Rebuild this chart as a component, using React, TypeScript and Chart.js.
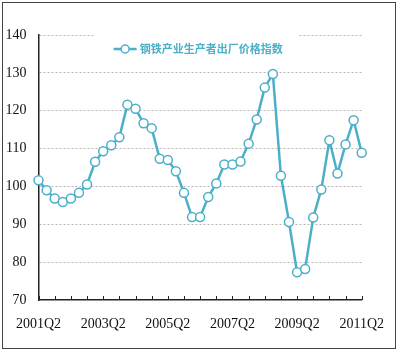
import React, { useEffect, useRef } from "react";
import { Chart, registerables } from "chart.js";

Chart.register(...registerables);

const quarters: string[] = [
  "2001Q2", "2001Q3", "2001Q4", "2002Q1", "2002Q2", "2002Q3", "2002Q4", "2003Q1",
  "2003Q2", "2003Q3", "2003Q4", "2004Q1", "2004Q2", "2004Q3", "2004Q4", "2005Q1",
  "2005Q2", "2005Q3", "2005Q4", "2006Q1", "2006Q2", "2006Q3", "2006Q4", "2007Q1",
  "2007Q2", "2007Q3", "2007Q4", "2008Q1", "2008Q2", "2008Q3", "2008Q4", "2009Q1",
  "2009Q2", "2009Q3", "2009Q4", "2010Q1", "2010Q2", "2010Q3", "2010Q4", "2011Q1",
  "2011Q2",
];

const steelIndex: number[] = [
  101.6, 99.0, 96.8, 95.9, 96.8, 98.3, 100.5, 106.5, 109.3, 110.9, 113.0,
  121.6, 120.5, 116.7, 115.4, 107.3, 107.0, 104.0, 98.3, 91.9, 91.9, 97.2,
  100.8, 105.8, 105.8, 106.6, 111.3, 117.7, 126.1, 129.7, 102.8, 90.6, 77.3,
  78.2, 91.8, 99.2, 112.2, 103.4, 111.1, 117.5, 108.9,
];

const shownXLabels: string[] = ["2001Q2", "2003Q2", "2005Q2", "2007Q2", "2009Q2", "2011Q2"];
const yTicks: number[] = [70, 80, 90, 100, 110, 120, 130, 140];
const seriesName = "钢铁产业生产者出厂价格指数";

const LINE = "#4bafc9";
const TICK_FONT = '"Liberation Serif", "Times New Roman", serif';

const framePlugin = {
  id: "frame",
  beforeDraw(chart: any) {
    const ctx = chart.ctx;
    ctx.save();
    ctx.fillStyle = "#ffffff";
    ctx.fillRect(0, 0, chart.width, chart.height);
    ctx.strokeStyle = "#444444";
    ctx.lineWidth = 1;
    ctx.strokeRect(2.5, 2.5, 393, 346);
    ctx.restore();
  },
};

const tickMarksPlugin = {
  id: "tickMarksUp",
  afterDatasetsDraw(chart: any) {
    const ctx = chart.ctx;
    const xs = chart.scales.x;
    const bottom = chart.chartArea.bottom;
    ctx.save();
    ctx.strokeStyle = "#222222";
    ctx.lineWidth = 1;
    for (let i = 0; i < quarters.length; i += 2) {
      const x = Math.round(xs.getPixelForValue(i)) + 0.5;
      ctx.beginPath();
      ctx.moveTo(x, bottom);
      ctx.lineTo(x, bottom - 4);
      ctx.stroke();
    }
    ctx.restore();
  },
};

const legendPlugin = {
  id: "insideLegend",
  afterDatasetsDraw(chart: any) {
    const ctx = chart.ctx;
    const area = chart.chartArea;
    const label = chart.data.datasets[0].label as string;
    ctx.save();
    ctx.font = 'bold 11px "Noto Sans CJK SC", sans-serif';
    const tw = ctx.measureText(label).width;
    const markerW = 23;
    const gap = 3;
    const total = markerW + gap + tw;
    const cx = (area.left + area.right) / 2 - 2;
    const startX = cx - total / 2;
    const y = area.top + 14;
    ctx.fillStyle = "#ffffff";
    ctx.fillRect(startX - 20, area.top - 6, total + 36, 30);
    ctx.strokeStyle = LINE;
    ctx.lineWidth = 2.5;
    ctx.beginPath();
    ctx.moveTo(startX, y);
    ctx.lineTo(startX + markerW, y);
    ctx.stroke();
    ctx.beginPath();
    ctx.arc(startX + markerW / 2, y, 4, 0, Math.PI * 2);
    ctx.fillStyle = "#ffffff";
    ctx.fill();
    ctx.lineWidth = 1.5;
    ctx.stroke();
    ctx.fillStyle = LINE;
    ctx.textBaseline = "middle";
    ctx.textAlign = "left";
    ctx.fillText(label, startX + markerW + gap, y);
    ctx.restore();
  },
};

export default function App() {
  const ref = useRef<HTMLCanvasElement | null>(null);

  useEffect(() => {
    document.body.style.margin = "0";
    if (!ref.current) return;
    const chart = new Chart(ref.current, {
      type: "line",
      data: {
        labels: quarters,
        datasets: [
          {
            label: seriesName,
            data: steelIndex,
            borderColor: LINE,
            backgroundColor: "#ffffff",
            borderWidth: 2.5,
            pointRadius: 4.5,
            pointBorderWidth: 1.5,
            pointBackgroundColor: "#ffffff",
            pointBorderColor: LINE,
            tension: 0,
          },
        ],
      },
      options: {
        animation: false,
        responsive: false,
        events: [],
        layout: { padding: { left: 0, right: 27, top: 35, bottom: 0 } },
        plugins: {
          legend: { display: false },
          tooltip: { enabled: false },
        },
        scales: {
          x: {
            type: "category",
            offset: false,
            grid: { display: false, drawTicks: false },
            border: { display: true, color: "#222222", width: 1.5 },
            ticks: {
              autoSkip: false,
              maxRotation: 0,
              minRotation: 0,
              padding: 16,
              color: "#111111",
              font: { family: TICK_FONT, size: 14 },
              callback: (_v: any, i: number) =>
                shownXLabels.includes(quarters[i]) ? quarters[i] : "",
            },
            afterFit: (s: any) => {
              s.height = 51;
            },
          },
          y: {
            min: yTicks[0],
            max: yTicks[yTicks.length - 1],
            afterBuildTicks: (s: any) => {
              s.ticks = yTicks.map((v) => ({ value: v }));
            },
            grid: {
              drawTicks: false,
              color: (c: any) => (c.tick && c.tick.value === 70 ? "rgba(0,0,0,0)" : "#b9b4b4"),
              lineWidth: 1,
            },
            border: { display: true, color: "#222222", width: 1.5, dash: [2, 2] as any },
            ticks: {
              padding: 12,
              color: "#111111",
              font: { family: TICK_FONT, size: 14 },
            },
            afterFit: (s: any) => {
              s.width = 36;
            },
          },
        },
      },
      plugins: [framePlugin, tickMarksPlugin, legendPlugin],
    });
    return () => chart.destroy();
  }, []);

  return (
    <div style={{ width: 400, height: 351 }}>
      <canvas ref={ref} width={400} height={351} style={{ display: "block" }} />
    </div>
  );
}
